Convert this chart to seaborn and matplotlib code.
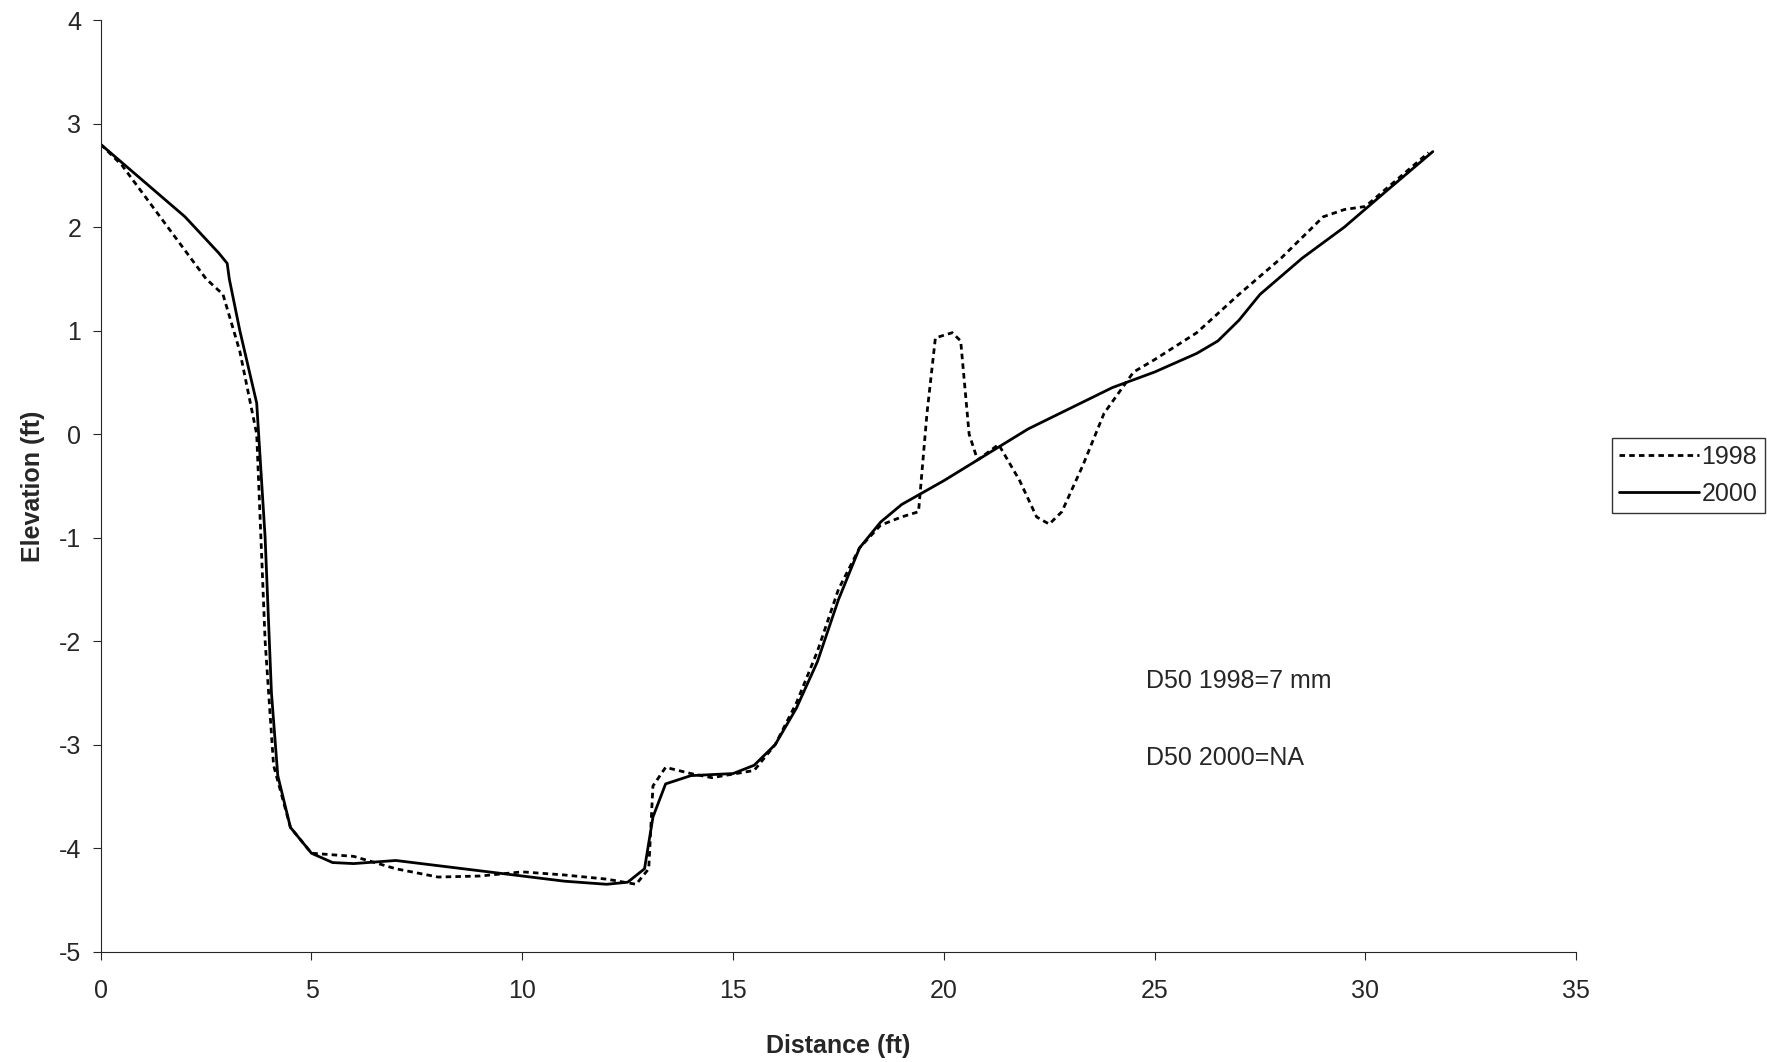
import numpy as np
import pandas as pd
import seaborn as sns
import matplotlib.pyplot as plt

# survey 1998 (dashed)
x1998 = [0, 0.5, 1.5, 2.5, 2.9, 3.3, 3.7, 3.9, 4.1, 4.5, 5, 6, 7, 8, 9, 10, 11, 12, 12.7, 13, 13.1,
         13.4, 14, 14.5, 15.5, 16, 16.5, 17, 17.5, 18, 18.5, 19, 19.4, 19.6, 19.8, 20.2, 20.4, 20.6,
         20.8, 21.3, 21.8, 22.2, 22.5, 22.8, 23.3, 23.8, 24.5, 25, 26, 27, 28, 29, 29.5, 30, 31.5]
y1998 = [2.8, 2.6, 2.05, 1.5, 1.35, 0.8, 0, -2.0, -3.2, -3.8, -4.05, -4.08, -4.2, -4.28, -4.27, -4.23,
         -4.26, -4.3, -4.35, -4.2, -3.4, -3.22, -3.28, -3.32, -3.25, -3.0, -2.6, -2.1, -1.5, -1.1, -0.88,
         -0.8, -0.75, 0.2, 0.93, 0.98, 0.9, 0, -0.25, -0.1, -0.45, -0.8, -0.87, -0.75, -0.3, 0.2, 0.6,
         0.72, 0.98, 1.35, 1.7, 2.1, 2.17, 2.2, 2.72]

# survey 2000 (solid)
x2000 = [0, 1, 2, 2.8, 3.0, 3.05, 3.3, 3.7, 3.9, 4.05, 4.2, 4.5, 5, 5.5, 6, 7, 8, 9, 10, 11, 12, 12.5,
         12.9, 13.1, 13.4, 14, 15, 15.5, 16, 16.5, 17, 17.5, 18, 18.5, 19, 20, 21, 22, 23, 24, 25, 26,
         26.5, 27, 27.5, 28.5, 29.5, 30.5, 31.6]
y2000 = [2.8, 2.45, 2.1, 1.75, 1.65, 1.5, 1.0, 0.3, -1.0, -2.5, -3.3, -3.8, -4.05, -4.14, -4.15, -4.12,
         -4.17, -4.22, -4.27, -4.32, -4.35, -4.33, -4.2, -3.7, -3.38, -3.3, -3.28, -3.2, -3.0, -2.65,
         -2.2, -1.6, -1.1, -0.85, -0.68, -0.45, -0.2, 0.05, 0.25, 0.45, 0.6, 0.78, 0.9, 1.1, 1.35, 1.7,
         2.0, 2.35, 2.73]

df = pd.concat([
    pd.DataFrame({'Distance': x1998, 'Elevation': y1998, 'Year': '1998'}),
    pd.DataFrame({'Distance': x2000, 'Elevation': y2000, 'Year': '2000'}),
])

sns.set_style('ticks')
plt.rcParams['font.family'] = ['Liberation Sans', 'DejaVu Sans']
plt.rcParams['axes.unicode_minus'] = False

fig = plt.figure(figsize=(17.67, 10.62), dpi=100)
ax = fig.add_axes([0.057, 0.104, 0.835, 0.877])
sns.lineplot(data=df, x='Distance', y='Elevation', hue='Year', style='Year',
             palette=['black', 'black'], dashes={'1998': (2, 1.5), '2000': ''},
             sort=False, linewidth=2, ax=ax, legend=False)

ax.set_xlim(0, 35)
ax.set_ylim(-5, 4)
ax.set_xticks(range(0, 36, 5))
ax.set_yticks(range(-5, 5))
ax.tick_params(labelsize=18, direction='out', length=6)
ax.tick_params(axis='x', pad=14)
ax.tick_params(axis='y', pad=8)
ax.set_xlabel('Distance (ft)', fontsize=18, fontweight='bold', labelpad=22)
ax.set_ylabel('Elevation (ft)', fontsize=18, fontweight='bold', labelpad=10)
sns.despine(ax=ax)

ax.text(24.8, -2.45, 'D50 1998=7 mm', fontsize=18)
ax.text(24.8, -3.2, 'D50 2000=NA', fontsize=18)

h1, = ax.plot([], [], color='black', ls=(0, (2, 1.5)), lw=2)
h2, = ax.plot([], [], color='black', lw=2)
fig.legend([h1, h2], ['1998', '2000'], loc='upper left', bbox_to_anchor=(0.912, 0.588),
           fontsize=18, frameon=True, fancybox=False, edgecolor='black',
           handlelength=3.2, handletextpad=0.1, borderpad=0.3, borderaxespad=0)

fig.savefig('out.png', dpi=100)
